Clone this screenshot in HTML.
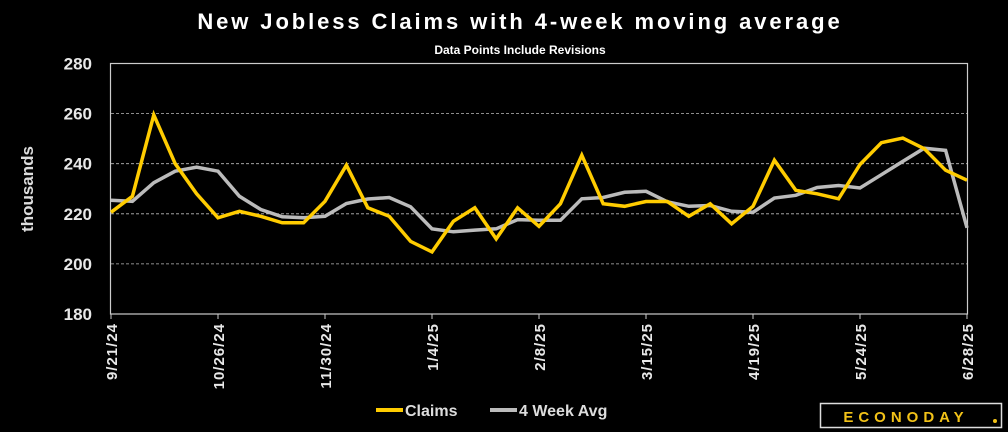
<!DOCTYPE html>
<html><head><meta charset="utf-8"><style>
html,body{margin:0;padding:0;background:#000;width:1008px;height:432px;overflow:hidden}
svg text{font-family:"Liberation Sans",sans-serif}
</style></head><body>
<svg id="chart" width="1008" height="432" viewBox="0 0 1008 432" xmlns="http://www.w3.org/2000/svg">
<rect width="1008" height="432" fill="#000"/>
<text x="520" y="29" text-anchor="middle" fill="#fff" font-size="22" font-weight="bold" letter-spacing="2.9">New Jobless Claims with 4-week moving average</text>
<text x="520" y="54" text-anchor="middle" fill="#fff" font-size="12" font-weight="bold">Data Points Include Revisions</text>
<text transform="translate(33,189) rotate(-90)" text-anchor="middle" fill="#ddd" font-size="17" font-weight="bold">thousands</text>
<g id="grid"></g>
<rect x="110.5" y="63.5" width="857" height="250.5" fill="none" stroke="#ccc" stroke-width="1.2"/>
<g id="series"></g>
<g id="xlabels"></g>
<g>
<line x1="376" y1="410" x2="403" y2="410" stroke="#ffcc00" stroke-width="4"/>
<text x="405" y="416" fill="#ddd" font-size="16" font-weight="bold">Claims</text>
<line x1="490" y1="410" x2="517" y2="410" stroke="#bbb" stroke-width="4"/>
<text x="519" y="416" fill="#ddd" font-size="16" font-weight="bold">4 Week Avg</text>
</g>
<g>
<rect x="820.5" y="403.5" width="181" height="24" fill="#000" stroke="#ddd" stroke-width="1.5"/>
<text x="906" y="422" text-anchor="middle" fill="#f2c218" font-size="15" font-weight="bold" letter-spacing="5">ECONODAY</text>
<circle cx="995" cy="421" r="2" fill="#f2c218"/>
</g>
</svg>
<script>
const categories = ["9/21/24","9/28/24","10/5/24","10/12/24","10/19/24","10/26/24","11/2/24","11/9/24","11/16/24","11/23/24","11/30/24","12/7/24","12/14/24","12/21/24","12/28/24","1/4/25","1/11/25","1/18/25","1/25/25","2/1/25","2/8/25","2/15/25","2/22/25","3/1/25","3/8/25","3/15/25","3/22/25","3/29/25","4/5/25","4/12/25","4/19/25","4/26/25","5/3/25","5/10/25","5/17/25","5/24/25","5/31/25","6/7/25","6/14/25","6/21/25","6/28/25"];
const claims = [220.6,227,259.5,240,228,218.4,221,219,216.4,216.4,225,239.4,222.4,219,209,204.8,217,222.4,210,222.4,215,224,243.4,224,223,224.9,224.9,219,224,216,223,241.4,229.4,228,226,239.7,248.4,250.2,246,237.4,233.4];
const avg = [225.4,225,232.4,237,238.6,237,227,221.7,218.8,218.4,219,224.1,225.9,226.5,222.8,214,212.8,213.5,214,217.7,217.4,217.4,226,226.5,228.6,229,224.8,223,223.3,221,220.6,226.3,227.4,230.5,231.3,230.3,235.6,240.9,246.2,245.3,214.4];
const yTicks = [180,200,220,240,260,280];
const labelEvery = 5;

const NS="http://www.w3.org/2000/svg";
const x0=111,x1=967,yTop=63.5,yBot=314,yMin=180,yMax=280;
const xs=i=>x0+(x1-x0)*i/(categories.length-1);
const ys=v=>yBot-(v-yMin)/(yMax-yMin)*(yBot-yTop);
const grid=document.getElementById('grid');
yTicks.forEach(t=>{
  const y=ys(t);
  if(t>yMin&&t<yMax){
    const l=document.createElementNS(NS,'line');
    
    
    l.setAttribute('x1',x0);l.setAttribute('x2',x1);l.setAttribute('y1',y);l.setAttribute('y2',y);
    l.setAttribute('stroke','#bbb');l.setAttribute('stroke-width','0.8');l.setAttribute('stroke-dasharray','3,2');
    grid.appendChild(l);
  }
  const tx=document.createElementNS(NS,'text');
  
  
  tx.setAttribute('x',92);tx.setAttribute('y',y+6);tx.setAttribute('text-anchor','end');
  tx.setAttribute('fill','#e8e8e8');tx.setAttribute('font-size','17');tx.setAttribute('font-weight','bold');
  tx.textContent=t;grid.appendChild(tx);
});
const ser=document.getElementById('series');
function line(data,color,name){
  const p=document.createElementNS(NS,'polyline');
  
  
  p.setAttribute('points',data.map((v,i)=>xs(i).toFixed(1)+','+ys(v).toFixed(1)).join(' '));
  p.setAttribute('fill','none');p.setAttribute('stroke',color);p.setAttribute('stroke-width','3.5');p.setAttribute('stroke-linejoin','miter');
  ser.appendChild(p);
}
line(avg,'#bbbbbb','avg-line');
line(claims,'#ffcc00','claims-line');
const xl=document.getElementById('xlabels');
categories.forEach((c,i)=>{
  if(i%labelEvery) return;
  const x=xs(i);
  const tk=document.createElementNS(NS,'line');
  
  
  tk.setAttribute('x1',x);tk.setAttribute('x2',x);tk.setAttribute('y1',yBot);tk.setAttribute('y2',yBot+5);
  tk.setAttribute('stroke','#ccc');tk.setAttribute('stroke-width','1');
  xl.appendChild(tk);
  const t=document.createElementNS(NS,'text');
  
  
  t.setAttribute('transform','translate('+(x+6)+','+(yBot+9)+') rotate(-90)');
  t.setAttribute('text-anchor','end');t.setAttribute('fill','#e8e8e8');t.setAttribute('font-size','15');t.setAttribute('font-weight','bold');t.setAttribute('letter-spacing','1');
  t.textContent=c;xl.appendChild(t);
});
</script>
</body></html>
